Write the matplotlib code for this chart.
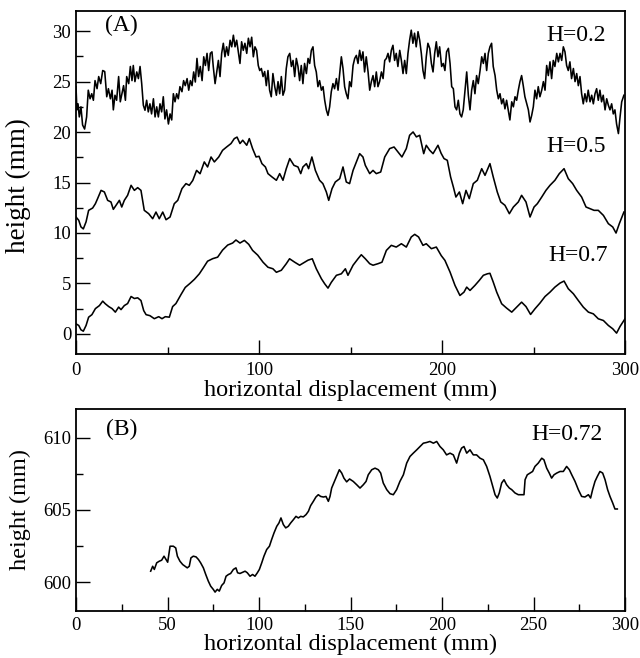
import matplotlib
matplotlib.use("Agg")
import matplotlib.pyplot as plt
from matplotlib.ticker import MultipleLocator

plt.rcParams['font.family'] = ['Liberation Serif', 'DejaVu Serif']

# ---------------- Panel A data ----------------
x_h07 = [0, 1.5, 2.7, 4.0, 5.5, 6.9, 8.7, 10.6, 12.8, 14.6, 16.0, 17.9, 19.7, 21.5, 23.3, 24.6, 26.4, 28.2,
         30.1, 31.9, 33.7, 35.5, 37.0, 38.3, 40.4, 42.8, 45.2, 47.0, 48.8, 51.0, 52.8, 54.6, 57.4, 59.7,
         62.3, 64.7, 67.4, 69.6, 71.9, 74.7, 77.4, 80.1, 82.9, 85.6, 87.4, 89.6, 92.0, 94.4, 96.5, 99.3,
         102.2, 104.9, 107.6, 109.5, 112.2, 114.9, 116.7, 119.5, 122.2, 124.9, 126.8, 129.1, 131.3,
         134.1, 135.9, 137.7, 139.5, 142.3, 145.0, 147.2, 148.6, 151.4, 154.1, 155.9, 158.1, 160.5,
         162.3, 165.0, 167.2, 169.6, 172.3, 175.0, 177.8, 180.5, 183.2, 185.1, 187.2, 189.6, 191.4,
         194.2, 196.9, 199.6, 201.6, 204.4, 207.1, 209.8, 212.0, 213.5, 215.3, 218.0, 220.4, 222.6,
         224.8, 226.2, 228.0, 229.9, 232.6, 235.3, 238.1, 240.8, 243.5, 245.9, 248.4, 250.8, 253.5,
         256.3, 259.0, 261.7, 264.5, 266.7, 269.0, 271.8, 274.5, 277.2, 280.0, 282.7, 285.4, 288.2,
         290.9, 293.3, 295.4, 297.3, 300.0]
y_h07 = [0.99, 0.83, 0.40, 0.26, 0.83, 1.65, 1.90, 2.50, 2.80, 3.24, 2.98, 2.70, 2.50, 2.15, 2.65, 2.40, 2.80, 3.00,
         3.70, 3.50, 3.57, 3.30, 2.30, 1.90, 1.80, 1.50, 1.70, 1.50, 1.70, 1.65, 2.70, 3.00, 3.90, 4.60,
         5.00, 5.40, 5.95, 6.55, 7.20, 7.45, 7.60, 8.30, 8.80, 9.00, 9.30, 9.00, 9.26, 8.87, 8.27, 7.80,
         7.10, 6.60, 6.45, 6.10, 6.30, 6.95, 7.44, 7.10, 6.80, 7.10, 7.30, 7.44, 6.45,
         5.46, 4.96, 4.53, 5.10, 5.80, 5.95, 6.45, 5.80, 6.80, 7.44, 7.84, 7.44, 6.95,
         6.80, 6.95, 7.10, 8.27, 8.77, 8.60, 8.93, 8.60, 9.60, 9.86, 9.60, 8.77, 8.93,
         8.44, 8.60, 7.75, 7.28, 6.12, 4.80, 3.80, 4.13, 4.63, 4.30, 4.80, 5.30, 5.80,
         5.95, 6.00, 5.13, 4.13, 2.98, 2.55, 2.15, 2.65, 3.14, 2.70, 1.92, 2.48, 3.04,
         3.70, 4.13, 4.63, 5.03, 5.23, 4.47, 3.97, 3.30, 2.65, 2.15, 1.98, 1.49, 1.32,
         0.83, 0.50, 0.07, 0.73, 1.49]

x_h05 = [0, 1.5, 2.7, 4.0, 5.5, 6.9, 9.1, 10.6, 11.8, 13.7, 15.5, 17.3, 19.1, 20.4, 21.9, 23.7, 25.0, 26.4,
         28.2, 30.1, 31.9, 33.7, 35.5, 37.3, 39.7, 41.9, 43.7, 45.5, 47.4, 49.2, 51.4, 53.7, 55.6, 57.9,
         60.1, 61.9, 63.8, 65.9, 67.8, 70.1, 71.9, 73.8, 75.6, 78.0, 80.1, 82.3, 84.7, 86.5, 88.0, 89.6,
         91.1, 93.3, 94.7, 96.5, 98.4, 100.0, 101.6, 103.5, 104.9, 107.1, 109.5, 111.3, 113.1, 114.9,
         116.8, 119.1, 121.3, 122.8, 124.0, 125.9, 127.1, 128.9, 130.8, 133.1, 134.9, 136.8, 138.1,
         139.9, 141.7, 144.1, 145.9, 147.7, 149.5, 151.4, 153.2, 155.0, 156.8, 158.1, 160.5, 162.3,
         164.1, 166.5, 168.7, 171.4, 173.8, 175.9, 178.1, 180.5, 182.3, 184.2, 186.0, 187.8, 190.0,
         191.4, 193.3, 195.1, 197.8, 199.5, 201.1, 202.9, 204.7, 206.2, 207.6, 209.5, 211.3, 213.1,
         214.9, 217.1, 219.3, 221.7, 223.5, 226.2, 228.0, 230.2, 232.1, 234.4, 236.8, 239.0, 241.7,
         243.5, 245.9, 248.1, 250.3, 252.1, 254.5, 256.8, 259.0, 261.7, 264.1, 266.7, 269.0, 271.4,
         273.6, 276.3, 278.7, 280.9, 283.1, 285.4, 288.2, 290.9, 293.3, 295.1, 296.9, 299.4]
y_h05 = [11.58, 11.25, 10.60, 10.40, 11.10, 12.24, 12.47, 12.90, 13.40, 14.22, 14.06, 13.23, 13.07, 12.34, 12.74, 13.23, 12.57, 13.23,
         13.73, 14.72, 14.22, 14.49, 14.22, 12.24, 11.91, 11.41, 12.07, 11.41, 12.07, 11.31, 11.58, 12.90, 13.23, 14.39,
         14.89, 14.72, 15.20, 16.20, 15.87, 17.04, 16.54, 17.53, 17.04, 17.53, 18.19, 18.52, 18.86, 19.35, 19.50, 18.86,
         19.19, 18.69, 19.35, 18.36, 17.53, 17.60, 16.87, 16.54, 15.88, 15.55, 15.22, 15.88, 15.22, 16.37,
         17.37, 16.70, 16.54, 15.88, 16.54, 16.87, 16.37, 17.53, 16.20, 15.22, 14.89, 14.06, 13.23,
         14.39, 15.05, 15.38, 16.54, 15.05, 14.89, 16.20, 17.04, 17.86, 17.53, 16.70, 15.88, 16.20,
         15.88, 16.04, 17.53, 18.36, 18.52, 18.03, 17.53, 18.36, 19.68, 20.01, 19.52, 19.68, 17.86,
         18.69, 18.19, 17.86, 18.69, 17.90, 17.37, 17.20, 15.55, 14.56, 13.56, 14.06, 12.90, 14.22,
         13.40, 14.89, 15.22, 16.37, 15.71, 16.87, 15.55, 14.06, 13.07, 12.74, 11.91, 12.57, 13.07,
         13.73, 13.07, 11.58, 12.57, 12.90, 13.56, 14.22, 14.72, 15.22, 15.88, 16.37, 15.38, 14.89,
         14.22, 13.56, 12.57, 12.40, 12.24, 12.24, 11.74, 10.92, 10.59, 9.99, 10.92, 12.07]

x_h02 = [0, 0.5, 1.1, 1.8, 2.7, 3.6, 4.7, 5.8, 6.7, 7.7, 8.6, 9.5, 10.4, 11.5, 12.4, 13.5, 14.6, 15.7, 16.8,
         17.7, 18.8, 19.7, 20.4, 21.3, 22.2, 23.3, 24.2, 25.1, 26.0, 27.0, 27.7, 28.8, 29.7, 30.6, 31.3,
         32.2, 33.2, 34.1, 35.0, 35.9, 36.8, 37.7, 38.6, 39.5, 40.4, 41.3, 42.3, 43.2, 44.1, 45.0, 45.9,
         46.8, 47.7, 48.6, 49.5, 50.5, 51.4, 52.3, 53.2, 54.1, 55.0, 55.9, 56.8, 57.9, 58.8, 59.7, 60.7,
         61.6, 62.5, 63.4, 64.3, 65.2, 66.1, 67.0, 67.9, 68.9, 69.8, 70.7, 71.6, 72.5, 73.4, 74.3, 75.0,
         76.0, 76.9, 77.8, 78.7, 79.6, 80.5, 81.4, 82.3, 83.2, 84.2, 85.1, 86.0, 86.9, 87.8, 88.7, 89.6,
         90.5, 91.4, 92.3, 93.3, 94.2, 95.1, 96.0, 96.9, 97.8, 98.7, 99.6, 100.4, 101.3, 102.2, 103.1,
         104.0, 104.9, 105.8, 106.7, 107.6, 108.6, 109.5, 110.4, 111.3, 112.2, 113.1, 114.0, 114.9,
         115.8, 116.8, 117.7, 118.6, 119.5, 120.4, 121.3, 122.2, 123.1, 124.0, 124.9, 125.9, 126.8,
         127.7, 128.6, 129.5, 130.4, 131.3, 132.2, 133.1, 134.1, 135.0, 135.9, 136.8, 137.7, 138.6,
         139.5, 140.4, 141.3, 142.3, 143.2, 144.1, 145.0, 145.9, 146.8, 147.7, 148.6, 149.5, 150.4,
         151.4, 152.3, 153.2, 154.1, 155.0, 155.9, 156.8, 157.7, 158.6, 159.6, 160.5, 161.4, 162.3,
         163.2, 164.1, 165.0, 165.9, 166.9, 167.8, 168.7, 169.6, 170.5, 171.4, 172.3, 173.2, 174.1,
         175.0, 175.9, 176.9, 177.8, 178.7, 179.6, 180.5, 181.4, 182.3, 183.2, 184.1, 185.0, 185.9,
         186.9, 187.8, 188.7, 189.6, 190.5, 191.4, 192.3, 193.3, 194.2, 195.1, 196.0, 196.9, 197.8,
         198.7, 199.8, 200.7, 201.6, 202.5, 203.5, 204.4, 205.3, 206.2, 207.1, 208.0, 208.9, 209.8,
         210.7, 211.6, 212.6, 213.5, 214.4, 215.3, 216.2, 217.1, 218.0, 218.9, 219.8, 220.8, 221.7,
         222.6, 223.5, 224.4, 225.3, 226.2, 227.1, 228.0, 229.0, 229.9, 230.8, 231.7, 232.6, 233.5,
         234.4, 235.3, 236.2, 237.1, 238.1, 239.0, 239.9, 240.8, 241.7, 242.6, 243.5, 244.4, 245.3,
         246.3, 247.2, 248.1, 249.0, 249.9, 250.8, 251.7, 252.6, 253.5, 254.5, 255.4, 256.3, 257.2,
         258.1, 259.0, 259.9, 260.8, 261.7, 262.7, 263.6, 264.5, 265.4, 266.3, 267.2, 268.1, 269.0,
         269.9, 270.8, 271.8, 272.7, 273.6, 274.5, 275.4, 276.3, 277.2, 278.1, 279.0, 279.9, 280.9,
         281.8, 282.7, 283.6, 284.5, 285.4, 286.3, 287.2, 288.1, 289.1, 290.0, 290.9, 291.8, 292.7,
         293.6, 294.5, 295.4, 296.4, 297.3, 298.2, 299.4]
y_h02 = [24.5, 22.2, 22.8, 21.5, 22.5, 20.7, 20.3, 21.5, 24.15, 23.3, 23.8, 23.15, 25.1, 24.3, 25.5, 24.8, 26.1, 26.0, 23.5,
         24.3, 23.3, 24.15, 22.2, 23.65, 23.15, 25.5, 23.0, 23.8, 24.6, 23.15, 25.5, 24.8, 26.5, 25.1, 26.6,
         25.0, 25.96, 25.3, 26.5, 24.8, 22.66, 22.16, 23.15, 22.0, 22.8, 21.8, 23.3, 21.5, 22.5, 21.5, 22.8,
         22.0, 23.5, 21.3, 22.2, 20.8, 21.8, 21.2, 23.8, 23.0, 23.8, 23.3, 24.5, 24.0, 25.1, 24.6, 25.3,
         24.15, 25.1, 24.6, 25.96, 24.96, 27.3, 25.5, 26.5, 25.1, 27.46, 26.6, 27.8, 26.1, 27.8, 27.95, 26.5,
         24.8, 25.96, 27.1, 25.5, 27.8, 28.8, 27.46, 28.45, 27.6, 29.1, 28.45, 29.6, 28.45, 29.1, 27.95, 26.8,
         28.95, 28.1, 28.8, 27.8, 29.3, 28.45, 29.4, 27.46, 28.45, 28.1, 26.6, 26.1, 26.3, 25.5, 26.0,
         24.6, 26.1, 24.15, 23.5, 25.8, 24.5, 23.65, 25.0, 23.8, 25.5, 23.65, 24.15, 26.3,
         27.46, 27.8, 26.5, 27.1, 25.5, 27.3, 26.5, 25.1, 26.6, 24.8, 26.8, 25.8, 27.3,
         26.8, 28.1, 28.45, 26.6, 25.96, 24.5, 25.1, 24.15, 24.5, 23.15, 22.2, 21.65, 22.5,
         24.0, 24.8, 24.3, 25.3, 24.15, 25.8, 27.46, 26.3, 24.5, 23.8, 23.3, 25.0, 24.5,
         26.6, 27.3, 27.6, 26.8, 28.1, 27.1, 27.95, 25.96, 27.46, 25.96, 24.15, 25.0, 25.6,
         24.5, 25.96, 24.5, 25.0, 25.96, 25.3, 27.1, 27.3, 27.8, 26.96, 28.1, 28.6, 27.1,
         27.8, 26.5, 28.1, 27.1, 25.8, 27.1, 25.8, 27.8, 29.1, 30.1, 28.8, 29.8, 28.45,
         29.95, 29.1, 27.8, 26.1, 25.3, 27.46, 28.8, 28.3, 26.8, 25.96, 27.8, 28.95, 27.46,
         28.45, 26.5, 26.8, 26.1, 27.95, 28.3, 26.8, 24.5, 24.3, 22.5, 22.2, 23.15, 21.8,
         21.5, 22.2, 24.15, 25.96, 23.65, 22.2, 24.15, 25.1, 23.8, 25.6, 24.8, 26.1, 27.46,
         26.8, 27.8, 26.1, 27.8, 28.45, 28.8, 26.5, 25.6, 24.15, 23.3, 23.8, 22.8, 23.3,
         22.3, 23.15, 22.2, 21.2, 23.0, 22.5, 23.5, 23.15, 24.15, 25.0, 25.6, 24.6, 23.5,
         22.8, 22.2, 21.0, 21.65, 22.5, 24.15, 23.3, 24.5, 23.5, 24.15, 25.0, 24.15, 26.6,
         25.6, 26.96, 25.3, 27.1, 26.5, 27.8, 26.96, 27.8, 27.1, 28.45, 27.95, 26.6, 26.1,
         26.96, 25.3, 26.3, 25.0, 25.8, 24.6, 25.5, 23.8, 22.8, 23.8, 23.0, 24.15, 23.0,
         23.65, 22.8, 23.8, 24.3, 23.15, 24.15, 23.0, 23.65, 22.2, 23.3, 22.66, 22.2, 22.8,
         21.8, 22.2, 20.8, 19.85, 21.5, 23.0, 23.65]

# ---------------- Panel B data ----------------
x_b = [40.8, 41.9, 42.8, 44.1, 45.5, 46.8, 48.1, 49.2, 50.1, 51.4, 53.2, 54.5, 55.4, 56.8, 58.3, 59.6, 60.8,
       61.9, 62.8, 64.1, 65.6, 66.9, 68.1, 69.6, 70.9, 72.3, 73.6, 75.0, 76.0, 77.2, 78.3, 79.6, 80.9,
       82.0, 83.3, 84.5, 86.0, 87.4, 88.3, 89.6, 91.1, 92.4, 93.6, 95.1, 96.5, 97.8, 99.1, 100.2, 101.5,
       102.7, 104.2, 105.7, 106.9, 108.2, 109.7, 110.9, 112.0, 113.3, 114.6, 116.0, 117.3, 118.8, 120.2,
       121.5, 122.8, 124.2, 125.7, 127.0, 128.2, 129.7, 131.1, 132.4, 133.7, 135.2, 136.6, 137.9, 138.8,
       139.7, 141.2, 142.4, 143.9, 145.2, 146.4, 147.9, 149.5, 151.5, 153.4, 155.2, 157.0, 158.5, 159.7,
       161.6, 163.4, 165.2, 166.5, 167.9, 169.8, 171.6, 173.4, 175.2, 177.0, 178.9, 180.7, 182.5, 184.3,
       186.2, 188.0, 189.8, 191.6, 193.4, 195.3, 197.1, 198.9, 200.7, 202.5, 204.4, 206.2, 208.0, 209.5,
       210.7, 212.0, 213.5, 215.3, 217.1, 218.9, 220.8, 222.6, 224.4, 226.2, 227.7, 229.0, 230.2, 231.3,
       232.6, 233.9, 235.3, 236.8, 238.1, 239.9, 241.7, 243.5, 244.8, 245.4, 246.6, 248.1, 249.5, 250.8,
       252.6, 254.5, 255.7, 257.2, 258.6, 259.9, 261.2, 262.7, 264.5, 266.3, 268.1, 269.6, 270.9, 272.7,
       274.5, 276.3, 278.1, 280.0, 281.2, 282.3, 283.6, 284.9, 286.3, 287.8, 289.1, 290.5, 291.8, 293.3,
       294.5, 295.8]
y_b = [600.76, 601.10, 600.88, 601.34, 601.45, 601.52, 601.80, 601.57, 601.38, 602.49, 602.49, 602.37, 601.80, 601.45, 601.22, 601.10, 600.99,
       601.10, 601.68, 601.80, 601.75, 601.57, 601.34, 600.99, 600.53, 600.07, 599.72, 599.50, 599.31, 599.50, 599.38, 599.77, 599.95,
       600.41, 600.53, 600.60, 600.88, 600.99, 600.65, 600.60, 600.69, 600.76, 600.65, 600.41, 600.53, 600.41, 600.65, 600.88, 601.34,
       601.80, 602.26, 602.49, 602.95, 603.41, 603.87, 604.10, 604.45, 603.99, 603.76, 603.87, 604.10, 604.33, 604.56,
       604.45, 604.56, 604.52, 604.68, 604.91, 605.30, 605.60, 605.90, 606.06, 605.94, 605.90, 605.94, 605.60, 605.94,
       606.52, 606.98, 607.33, 607.79, 607.56, 607.21, 606.95, 607.15, 606.98, 606.75, 606.52, 606.75, 606.98, 607.44,
       607.79, 607.90, 607.79, 607.56, 606.87, 606.41, 606.13, 606.06, 606.41, 606.98, 607.44, 608.25, 608.71, 608.94,
       609.17, 609.40, 609.63, 609.68, 609.75, 609.63, 609.75, 609.40, 609.17, 608.82, 608.94, 608.82, 608.25, 608.94,
       609.29, 609.40, 608.94, 609.17, 608.82, 608.82, 608.59, 608.48, 608.02, 607.33, 606.64, 606.06, 605.83, 606.18,
       606.87, 607.10, 606.75, 606.52, 606.41, 606.18, 606.06, 606.06, 606.06, 607.10, 607.44, 607.56, 607.67, 608.02,
       608.25, 608.59, 608.48, 607.90, 607.56, 607.21, 607.44, 607.56, 607.67, 607.67, 608.02, 607.79, 607.44, 606.98,
       606.41, 605.94, 605.90, 606.06, 605.83, 606.41, 606.98, 607.33, 607.67, 607.56, 607.10, 606.41, 605.94, 605.48,
       605.07, 605.07]

labels_a = ["H=0.2", "H=0.5", "H=0.7"]
label_b = "H=0.72"

fig = plt.figure(figsize=(6.4, 6.58), dpi=100)

LW = 1.15
TICK_FS = 13.5
LAB_FS = 17.5
ANN_FS = 17

def style(ax, xpad):
    for s in ax.spines.values():
        s.set_linewidth(1.3)
    ax.tick_params(which='both', direction='in', top=False, right=False,
                   labelsize=TICK_FS, width=1.0)
    ax.tick_params(which='major', length=10)
    ax.tick_params(which='minor', length=5)
    ax.tick_params(axis='x', which='both', pad=xpad)

axA = fig.add_axes([76/640, 1-354/658, 549/640, 343/658])
axA.plot(x_h02, y_h02, color='black', lw=LW)
axA.plot(x_h05, y_h05, color='black', lw=LW)
axA.plot(x_h07, y_h07, color='black', lw=LW)
axA.set_xlim(0, 300)
axA.set_ylim(-2, 32)
axA.xaxis.set_major_locator(MultipleLocator(100))
axA.xaxis.set_minor_locator(MultipleLocator(50))
axA.yaxis.set_major_locator(MultipleLocator(5))
axA.yaxis.set_minor_locator(MultipleLocator(2.5))
style(axA, 6)
axA.set_xlabel("horizontal displacement (mm)", fontsize=LAB_FS, labelpad=0)
axA.set_ylabel("height (mm)", fontsize=19.5)
axA.yaxis.set_label_coords(-0.082, 0.49)
axA.text(16, 30.6, "(A)", fontsize=ANN_FS, va='center', ha='left')
axA.text(257, 29.6, labels_a[0], fontsize=ANN_FS, va='center', ha='left')
axA.text(257, 18.6, labels_a[1], fontsize=ANN_FS, va='center', ha='left')
axA.text(258, 7.8, labels_a[2], fontsize=ANN_FS, va='center', ha='left')

axB = fig.add_axes([76/640, 1-611/658, 549/640, 202/658])
axB.plot(x_b, y_b, color='black', lw=LW)
axB.set_xlim(0, 300)
axB.set_ylim(598, 612)
axB.xaxis.set_major_locator(MultipleLocator(50))
axB.xaxis.set_minor_locator(MultipleLocator(25))
axB.yaxis.set_major_locator(MultipleLocator(5))
axB.yaxis.set_minor_locator(MultipleLocator(2.5))
style(axB, 4)
axB.set_xlabel("horizontal displacement (mm)", fontsize=LAB_FS, labelpad=0)
axB.set_ylabel("height (mm)", fontsize=LAB_FS)
axB.yaxis.set_label_coords(-0.082, 0.5)
axB.text(16.4, 610.55, "(B)", fontsize=ANN_FS, va='center', ha='left')
axB.text(249, 610.2, label_b, fontsize=ANN_FS, va='center', ha='left')

fig.savefig("out.png", dpi=100)
